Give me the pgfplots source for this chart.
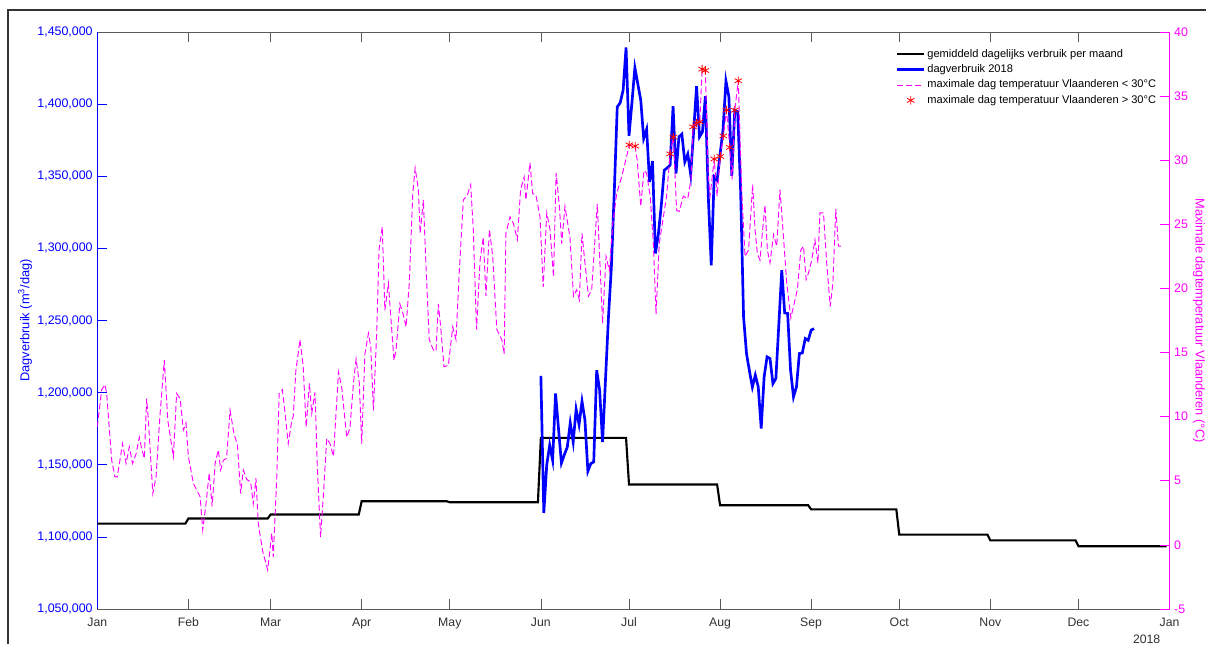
\documentclass[border=0pt]{standalone}
\usepackage{fontspec}
\setmainfont{Liberation Sans}
\usepackage{pgfplots}
\pgfplotsset{compat=1.18}
\definecolor{mag}{RGB}{255,0,255}
\definecolor{pblue}{RGB}{0,0,255}
\definecolor{pred}{RGB}{255,0,0}
\definecolor{axgray}{RGB}{90,90,90}
\definecolor{txgray}{RGB}{50,50,50}
\pgfplotsset{
  mylegline/.style={legend image code/.code={\draw[##1] (0pt,0pt) -- (20pt,0pt);}},
  mylegstar/.style={legend image code/.code={\draw[mark repeat=2,mark phase=2,##1] plot coordinates {(0pt,0pt) (10pt,0pt) (20pt,0pt)};}},
}
\begin{document}
\begin{tikzpicture}
\useasboundingbox (0pt,0pt) rectangle (904.5pt,483pt);
\fill[white] (0pt,0pt) rectangle (904.5pt,483pt);
\draw[black!80, line width=1pt] (6pt,0pt) -- (6pt,475.5pt) -- (904.5pt,475.5pt);
\begin{axis}[
  at={(72.975pt,26.25pt)}, anchor=south west,
  width=804.15pt, height=432.75pt, scale only axis,
  xmin=0, xmax=365, ymin=1050000, ymax=1450000,
  xtick={0,31,59,90,120,151,181,212,243,273,304,334,365},
  xticklabels={Jan,Feb,Mar,Apr,May,Jun,Jul,Aug,Sep,Oct,Nov,Dec,Jan},
  ytick={1050000,1100000,1150000,1200000,1250000,1300000,1350000,1400000,1450000},
  separate axis lines,
  x axis line style={axgray, line width=0.6pt},
  y axis line style={pblue, line width=0.6pt},
  xtick pos=both, xticklabel pos=left, ytick pos=left,
  tick align=inside, major tick length=7.5pt,
  xtick style={axgray, line width=0.5pt},
  ytick style={pblue, line width=0.5pt},
  scaled y ticks=false,
  /pgf/number format/assume math mode=true,
  yticklabel style={pblue, font=\fontsize{9.3}{10}\selectfont, /pgf/number format/.cd, fixed, precision=0, 1000 sep={,}, assume math mode=true},
  xticklabel style={txgray, font=\fontsize{9.2}{10}\selectfont, yshift=-3pt},
  ylabel={Dagverbruik (m\textsuperscript{3}/dag)},
  ylabel style={pblue, font=\fontsize{9.6}{11}\selectfont, at={(axis description cs:-0.0674,0.5)}, anchor=center},
]
\addplot[black, line width=1.6pt] coordinates {
(0,1109200) (30,1109200) (31,1112700) (58,1112700) (59,1115500) (89,1115500)
(90,1124700) (119,1124700) (120,1124000) (150,1124000) (151,1168600) (180,1168600)
(181,1136300) (211,1136300) (212,1121900) (242,1121900) (243,1119100) (272,1119100)
(273,1101600) (303,1101600) (304,1097600) (333,1097600) (334,1093500) (364,1093500)
};
\addplot[pblue, line width=2pt] coordinates {
(151,1211600) (152,1116600) (153,1150000) (154,1163500) (155,1153100) (156,1199400)
(157,1175000) (158,1151200) (159,1157000) (160,1162300) (161,1179000) (162,1165800)
(163,1188500) (164,1177900) (165,1194000) (166,1180900) (167,1145500) (168,1150800)
(169,1152000) (170,1215500) (171,1201700) (172,1165800) (173,1209000) (174,1252000)
(175,1287000) (176,1340000) (177,1398100) (178,1400900) (179,1409700) (180,1439300)
(181,1378000) (182,1401000) (183,1425200) (184,1414000) (185,1402800) (186,1376200)
(187,1382500) (188,1346100) (189,1360500) (190,1296500) (191,1310000) (192,1330000)
(193,1354200) (194,1355800) (195,1357700) (196,1398600) (197,1351900) (198,1377300)
(199,1379200) (200,1360000) (201,1365300) (202,1351200) (203,1380900) (204,1412500)
(205,1377300) (206,1380800) (207,1405500) (208,1335700) (209,1288300) (210,1349600)
(211,1347300) (212,1365000) (213,1382000) (214,1416000) (215,1405100) (216,1350300)
(217,1395800) (218,1394700) (219,1340000) (220,1252500) (221,1227100) (222,1215000)
(223,1203900) (224,1212100) (225,1203900) (226,1175100) (227,1210900) (228,1224800)
(229,1223600) (230,1206300) (231,1209800) (232,1247000) (233,1284900) (234,1255300)
(235,1254900) (236,1215500) (237,1197000) (238,1203900) (239,1227100) (240,1227500)
(241,1237500) (242,1236300) (243,1243300) (244,1244400)
};
\end{axis}
\begin{axis}[
  at={(72.975pt,26.25pt)}, anchor=south west,
  width=804.15pt, height=432.75pt, scale only axis,
  xmin=0, xmax=365, ymin=-5, ymax=40,
  axis x line=none, axis y line*=right,
  y axis line style={mag, line width=0.6pt},
  ytick={-5,0,5,10,15,20,25,30,35,40},
  tick align=inside, major tick length=7.5pt,
  ytick style={mag, line width=0.5pt},
  /pgf/number format/assume math mode=true,
  yticklabel style={mag, font=\fontsize{9.3}{10}\selectfont, /pgf/number format/assume math mode=true},
  ylabel={Maximale dagtemperatuur Vlaanderen (°C)},
  ylabel style={mag, font=\fontsize{9.6}{11}\selectfont, at={(axis description cs:1.0275,0.5)}, anchor=center, rotate=180},
  mylegline,
  legend cell align=left,
  legend style={draw=none, fill=none, inner sep=0pt, outer sep=0pt,
    at={(axis description cs:0.745,0.9740)}, anchor=north west,
    font=\fontsize{8.3}{9.8}\selectfont, row sep=0.5pt,
    nodes={inner sep=1.5pt, text height=6.2pt, text depth=1.8pt}},
]
\addlegendimage{black, line width=1.6pt}
\addlegendentry{gemiddeld dagelijks verbruik per maand}
\addlegendimage{pblue, line width=2pt}
\addlegendentry{dagverbruik 2018}
\addplot[mag, line width=0.7pt, dash pattern=on 4.5pt off 2.2pt] coordinates {
(0.0,9.2) (1.5,12.1) (2.6,12.5) (3.2,11.8) (4.9,6.6) (6.0,5.3) (6.8,5.3) (8.6,7.9)
(9.8,6.35) (10.9,7.65) (12.0,6.35) (13.2,7.1) (14.3,8.4) (15.1,7.5) (16.0,6.75)
(16.8,11.4) (17.4,9.7) (18.9,4.0) (20.0,5.3) (21.3,10.0) (22.8,14.4) (24.0,9.7)
(25.9,6.9) (27.0,11.8) (28.2,11.4) (29.3,8.95) (30.2,9.5) (31.0,6.9) (32.7,4.8)
(35.0,3.75) (35.9,1.16) (37.0,3.2) (38.1,5.6) (39.1,3.0) (40.1,6.35) (41.2,7.4)
(42.0,5.84) (42.9,6.6) (44.0,6.75) (45.2,10.5) (46.5,8.7) (47.7,7.8) (48.8,4.0)
(49.7,5.84) (50.9,5.1) (52.2,4.9) (53.1,3.2) (54.0,5.2) (54.8,1.67) (56.3,-0.5)
(58.0,-1.96) (59.4,0.9) (59.9,-0.93) (61.1,5.3) (61.9,11.8) (63.0,12.1) (63.9,10.3)
(65.0,7.9) (66.2,9.7) (66.7,10.0) (67.6,13.6) (69.0,16.0) (70.1,13.9) (71.1,9.2)
(72.2,12.6) (73.0,10.25) (74.1,11.9) (74.9,6.1) (76.0,0.6) (77.0,4.0) (78.1,8.3)
(79.2,7.9) (80.4,6.9) (82.1,13.5) (83.2,12.3) (84.9,8.4) (86.0,9.1) (87.2,12.6)
(88.1,14.5) (89.2,12.6) (90.0,7.9) (91.1,14.9) (92.3,16.5) (93.1,15.45) (94.0,10.5)
(95.1,16.5) (95.9,23.0) (97.0,24.8) (97.9,18.3) (99.1,20.4) (100.0,17.5) (101.0,14.4)
(101.7,15.2) (103.0,18.8) (104.0,18.1) (105.1,17.0) (106.2,20.4) (107.4,27.4)
(108.2,29.4) (109.3,27.7) (109.9,24.3) (111.0,26.9) (111.9,21.7) (113.0,16.0)
(114.4,15.2) (115.3,15.1) (116.1,18.8) (116.9,17.0) (118.0,13.9) (119.5,14.0)
(121.0,17.0) (122.1,16.0) (123.2,21.2) (124.6,26.9) (126.0,27.3) (127.1,28.1)
(128.0,24.6) (129.1,16.8) (130.3,22.2) (131.4,24.0) (132.3,19.4) (133.5,24.6)
(134.6,22.5) (136.0,16.8) (137.7,16.0) (138.5,14.9) (139.1,24.3) (140.5,25.6)
(141.6,25.1) (143.0,23.8) (144.1,27.7) (145.3,28.7) (145.9,26.9) (147.3,29.8)
(148.2,27.4) (149.3,27.3) (150.7,25.6) (151.8,20.1) (153.0,25.9) (154.1,24.6)
(155.3,20.9) (156.2,29.0) (157.3,26.4) (158.1,23.5) (159.2,26.4) (160.9,24.0)
(162.1,19.4) (163.2,19.9) (164.1,19.1) (165.0,24.3) (166.0,22.0) (167.2,19.4)
(168.3,19.9) (170.2,26.6) (171.1,22.0) (172.0,17.3) (173.2,22.5) (174.3,21.4)
(175.5,25.1) (176.8,27.4) (178.5,28.7) (180.2,30.3) (181.1,31.2) (183.1,31.1)
(183.8,30.0) (185.0,26.4) (186.1,29.2) (187.0,29.0) (188.2,27.2) (189.3,23.5)
(190.2,18.0) (191.3,23.5) (192.5,25.3) (193.8,27.2) (195.0,30.5) (196.1,31.8)
(197.2,26.1) (198.1,26.0) (199.5,27.2) (201.0,27.0) (202.1,28.5) (202.8,32.6)
(204.0,32.9) (205.1,33.0) (205.9,37.1) (207.0,37.0) (208.0,28.7) (208.6,27.2)
(210.0,30.1) (211.0,27.2) (212.1,30.3) (213.1,31.9) (214.2,33.9) (215.3,31.0)
(216.1,28.5) (217.0,33.9) (218.2,36.2) (219.4,27.4) (220.5,22.5) (221.7,23.0)
(223.1,28.1) (223.9,24.6) (224.7,22.7) (225.6,22.2) (226.5,24.6) (227.3,26.5)
(228.1,23.0) (229.0,22.0) (230.2,24.2) (231.3,23.3) (232.4,27.7) (233.6,24.0)
(234.7,20.4) (236.1,17.7) (237.2,18.8) (238.3,19.9) (239.5,23.0) (240.4,23.3)
(241.3,20.7) (242.1,21.2) (243.2,22.2) (244.3,23.8) (245.3,22.0) (246.0,25.9)
(247.2,25.9) (248.3,22.0) (249.5,18.6) (250.4,20.4) (251.4,26.2) (252.3,23.3)
(253.1,23.3)
};
\addlegendentry{maximale dag temperatuur Vlaanderen < 30°C}
\addplot[pred, only marks, mark=asterisk, mark size=3.2pt, line width=0.6pt, mylegstar]
coordinates {
(181.1,31.2) (183.1,31.1) (195.0,30.5) (196.1,31.8) (202.8,32.6) (204.0,32.9)
(205.1,33.0) (205.9,37.1) (207.0,37.0) (210.0,30.1) (212.1,30.3) (213.1,31.9)
(214.2,33.9) (215.3,31.0) (217.0,33.9) (218.2,36.2)
};
\addlegendentry{maximale dag temperatuur Vlaanderen > 30°C}
\end{axis}
\node[txgray, font=\fontsize{9.2}{10}\selectfont] at (860pt,3.4pt) {2018};
\end{tikzpicture}
\end{document}
